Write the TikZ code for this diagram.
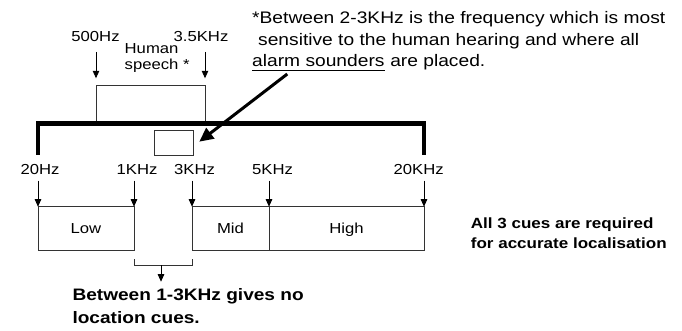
\documentclass[tikz,border=0pt]{standalone}
\usepackage{fontspec}
\setmainfont{Liberation Sans}[FakeStretch=1.15]
\usetikzlibrary{arrows.meta}
\tikzset{
 boxln/.style={draw=black!80, line width=0.9pt},
 fbox/.style={boxln, inner sep=0pt, outer sep=0pt, text height=10.4pt, text depth=0pt, font=\fontsize{14.5}{17}\selectfont},
 arr/.style={black, line width=0.9pt, -{Triangle[length=7.5pt,width=6.5pt]}},
 bigarr/.style={black, line width=3pt, -{Triangle[length=14pt,width=13pt]}},
 lbl/.style={inner sep=0pt, font=\fontsize{14.5}{17}\selectfont, anchor=base},
 notetxt/.style={inner sep=0pt, font=\fontsize{16.7}{20}\selectfont, anchor=base west},
 boldtxt/.style={inner sep=0pt, font=\bfseries\fontsize{16.6}{20}\selectfont, anchor=base west},
 sidetxt/.style={inner sep=0pt, font=\bfseries\fontsize{14.8}{18}\selectfont, anchor=base west},
}
\begin{document}
\begin{tikzpicture}[x=1pt,y=-1pt]
\useasboundingbox (0,0) rectangle (682,331);
\fill[white] (0,0) rectangle (682,331);

% speech range
\node[boxln, inner sep=0pt, minimum width=109pt, minimum height=38.5pt] (speech) at (150.5,104.25) {};
\node[lbl] (f500) at (95.5,41.7) {500Hz};
\node[lbl] (f35) at (201,41.7) {3.5KHz};
\node[lbl, anchor=base west] (hum) at (124.5,53.3) {Human};
\node[lbl, anchor=base west] (sp) at (124.5,69.3) {speech *};
\coordinate (s500) at (96,52);
\coordinate (e500) at (96,78.3);
\coordinate (s35) at (205,52);
\coordinate (e35) at (205,78.3);
\draw[arr] (s500) -- (e500);
\draw[arr] (s35) -- (e35);

% thick bracket
\coordinate (bl) at (38,155);
\coordinate (tl) at (38,123.5);
\coordinate (tr) at (424,123.5);
\coordinate (br) at (424,155);
\draw[line width=4.3pt, line join=miter] (bl) -- (tl) -- (tr) -- (br);

% small box (2-3 KHz)
\node[boxln, inner sep=0pt, minimum width=39pt, minimum height=25pt] (small) at (173.5,142.5) {};

% note
\node[notetxt] (n1) at (252,24) {*Between 2-3KHz is the frequency which is most};
\node[notetxt] (n2) at (258,45.5) {sensitive to the human hearing and where all};
\node[notetxt] (n3a) at (252,66.7) {alarm sounders};
\node[notetxt] (n3b) at (n3a.base east) {\ are placed.};
\draw[line width=1.6pt] ([yshift=-4pt]n3a.base west) -- ([yshift=-4pt]n3a.base east);
\coordinate (ta) at (287.3,74);
\coordinate (tb) at (199.3,141.7);
\draw[bigarr] (ta) -- (tb);

% cue boxes
\node[fbox, minimum width=96pt, minimum height=44pt] (low) at (86,228.7) {Low};
\node[fbox, minimum width=77pt, minimum height=44pt] (mid) at (230.5,228.7) {Mid};
\node[fbox, minimum width=155pt, minimum height=44pt] (high) at (346.5,228.7) {High};

\node[lbl] (f20) at (40,175) {20Hz};
\node[lbl] (f1k) at (137,175) {1KHz};
\node[lbl] (f3k) at (194.5,175) {3KHz};
\node[lbl] (f5k) at (272.5,175) {5KHz};
\node[lbl] (f20k) at (418.7,175) {20KHz};
\coordinate (a20) at (38,180.7);
\coordinate (a1k) at (134,180.7);
\coordinate (a3k) at (192,180.7);
\coordinate (a5k) at (269,180.7);
\coordinate (a20k) at (424,180.7);
\draw[arr] (a20) -- (low.north west);
\draw[arr] (a1k) -- (low.north east);
\draw[arr] (a3k) -- (mid.north west);
\draw[arr] (a5k) -- (mid.north east);
\draw[arr] (a20k) -- (high.north east);

% gap bracket
\coordinate (g1) at (134,259);
\coordinate (g2) at (134,265);
\coordinate (g3) at (192,265);
\coordinate (g4) at (192,259);
\coordinate (gm) at (161,265);
\coordinate (gt) at (161,281.7);
\draw[boxln] (g1) -- (g2) -- (g3) -- (g4);
\draw[arr] (gm) -- (gt);

\node[boldtxt] (b1) at (72.3,300) {Between 1-3KHz gives no};
\node[boldtxt] (b2) at (72.3,323.5) {location cues.};

\node[sidetxt] (c1) at (470.7,228.3) {All 3 cues are required};
\node[sidetxt] (c2) at (470.7,248.3) {for accurate localisation};
\end{tikzpicture}
\end{document}
